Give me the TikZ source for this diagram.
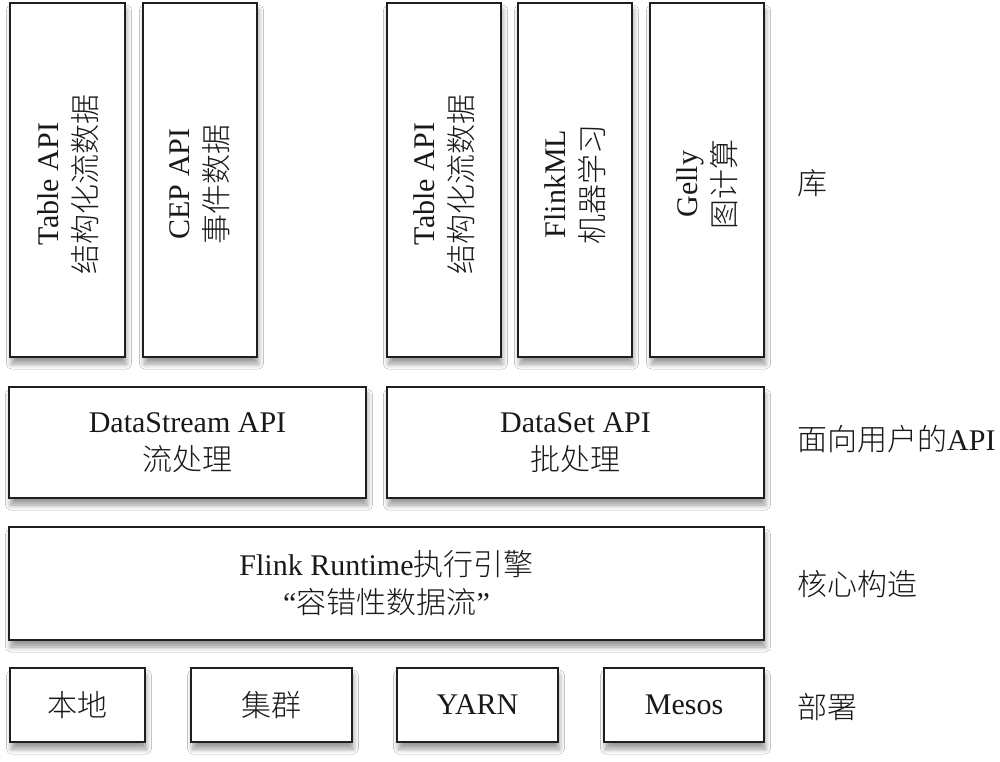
\documentclass[tikz,border=0pt]{standalone}
\usepackage{fontspec}
\setmainfont{Liberation Serif}
\newfontfamily\cjk{Noto Sans CJK SC Light}
\usetikzlibrary{shadows.blur}
\tikzset{
  box/.style={draw=black!88, line width=2.5pt, fill=white, inner sep=0pt,
    blur shadow={shadow xshift=1.5pt, shadow yshift=-7pt, shadow blur steps=8,
      shadow opacity=40, shadow blur radius=5pt}},
  lbl/.style={font=\fontsize{30}{38}\selectfont, align=center, text=black!90, inner sep=0pt},
  side/.style={font=\fontsize{30}{38}\selectfont, anchor=west, inner sep=0pt, text=black!90}
}
\begin{document}
\begin{tikzpicture}[x=1pt,y=-1pt]
\useasboundingbox (0,0) rectangle (1000,761);
\fill[white] (0,0) rectangle (1000,761);
% libraries
\node[box, minimum width=115pt, minimum height=354pt] (t1) at (67.5,180) {};
\node[box, minimum width=114pt, minimum height=354pt] (t2) at (200,180) {};
\node[box, minimum width=114pt, minimum height=354pt] (t3) at (444,180) {};
\node[box, minimum width=114pt, minimum height=354pt] (t4) at (575,180) {};
\node[box, minimum width=114pt, minimum height=354pt] (t5) at (707,180) {};
\node[lbl, rotate=90] (t1txt) at (68,184) {Table API\\{\cjk 结构化流数据}};
\node[lbl, rotate=90] (t2txt) at (200,184) {CEP API\\{\cjk 事件数据}};
\node[lbl, rotate=90] (t3txt) at (444,184) {Table API\\{\cjk 结构化流数据}};
\node[lbl, rotate=90] (t4txt) at (575,184) {FlinkML\\{\cjk 机器学习}};
\node[lbl, rotate=90] (t5txt) at (707,184) {Gelly\\{\cjk 图计算}};
% APIs
\node[box, lbl, minimum width=357pt, minimum height=111pt] (ds) at (187.5,442.5) {DataStream API\\{\cjk 流处理}};
\node[box, lbl, minimum width=377pt, minimum height=111pt] (dset) at (575.5,442.5) {DataSet API\\{\cjk 批处理}};
% runtime
\node[box, lbl, minimum width=755pt, minimum height=113pt] (rt) at (386.5,583.5) {Flink Runtime{\cjk 执行引擎}\\“{\cjk 容错性数据流}”};
% deploy
\node[box, lbl, minimum width=135pt, minimum height=74pt] (b1) at (77.5,705) {{\cjk 本地}};
\node[box, lbl, minimum width=161pt, minimum height=74pt] (b2) at (271.5,705) {{\cjk 集群}};
\node[box, lbl, minimum width=161pt, minimum height=74pt] (b3) at (477.5,705) {YARN};
\node[box, lbl, minimum width=160pt, minimum height=74pt] (b4) at (684,705) {Mesos};
% side labels
\node[side] (s1) at (797,183) {{\cjk 库}};
\node[side] (s2) at (797,439) {{\cjk 面向用户的}API};
\node[side] (s3) at (797,584) {{\cjk 核心构造}};
\node[side] (s4) at (797,707) {{\cjk 部署}};
\end{tikzpicture}
\end{document}
